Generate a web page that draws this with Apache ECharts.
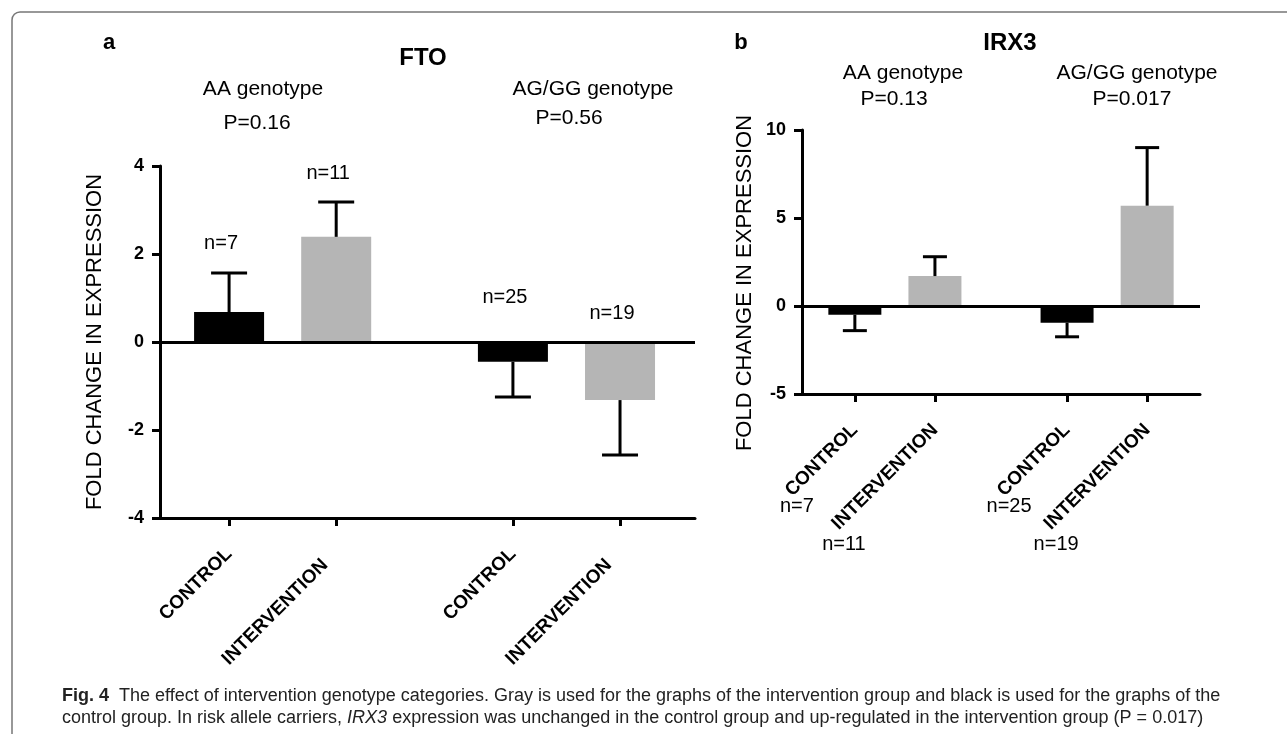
<!DOCTYPE html>
<html>
<head>
<meta charset="utf-8">
<script src="https://cdn.jsdelivr.net/npm/echarts@6/dist/echarts.min.js"></script>
<style>
	html, body { margin: 0; padding: 0; background: #fff; }
	#chart { width: 1287px; height: 734px; }
</style>
</head>
<body>
<div id="chart"></div>
<script>
// Data
var categories = ['CONTROL', 'INTERVENTION', 'CONTROL', 'INTERVENTION'];
var genotypes = ['AA genotype', 'AG/GG genotype'];
var groupN = [7, 11, 25, 19];
var ftoMean = [0.68, 2.39, -0.45, -1.32];
var ftoErr = [0.89, 0.79, 0.80, 1.25];
var ftoP = ['P=0.16', 'P=0.56'];
var irxMean = [-0.5, 1.7, -0.95, 5.7];
var irxErr = [0.9, 1.1, 0.8, 3.3];
var irxP = ['P=0.13', 'P=0.017'];

// Layout
var slots = [1, 2, 3.65, 4.65];	// two bars per genotype group, wider gap between groups
var font = 'Liberation Sans, Arial, sans-serif';
var barColors = ['#000000', '#b5b5b5'];

function XAxis(grid, min, max, pad) {
	return {
		type: 'value', gridIndex: grid, min: min, max: max,
		splitLine: { show: false },
		axisLine: { onZero: false, lineStyle: { color: '#000', width: 3 } },
		axisTick: { customValues: slots, length: 8, lineStyle: { color: '#000', width: 3 } },
		axisLabel: {
			customValues: slots, rotate: 45, margin: 33,
			color: '#000', fontFamily: font, fontWeight: 'bold', fontSize: 19,
			formatter: function(v) {
				let i = slots.indexOf(v);
				if (i < 0) return '';
				return categories[i] + (i % 2 ? pad : '');
			}
		}
	};
}
function YAxis(grid, min, max, interval, gap, shift) {
	return {
		type: 'value', gridIndex: grid, min: min, max: max, interval: interval,
		splitLine: { show: false },
		axisLine: { show: true, onZero: false, lineStyle: { color: '#000', width: 3 } },
		axisTick: { show: true, length: 8, lineStyle: { color: '#000', width: 3 } },
		axisLabel: { color: '#000', fontFamily: font, fontWeight: 'bold', fontSize: 18, margin: 16 },
		name: 'FOLD CHANGE IN EXPRESSION', nameLocation: 'middle', nameRotate: 90, nameGap: gap,
		nameTextStyle: { color: '#000', fontFamily: font, fontSize: 22, padding: [0, shift, 0, 0] }
	};
}
function BarSeries(idx, mean, barWidth) {
	return {
		type: 'bar', xAxisIndex: idx, yAxisIndex: idx, barWidth: barWidth,
		data: mean.map(function(m, i) { return [slots[i], m]; }),
		itemStyle: { color: function(p) { return barColors[p.dataIndex % 2]; } },
		markLine: {	// zero line
			silent: true, symbol: ['none', 'none'], label: { show: false },
			lineStyle: { color: '#000', width: 3, type: 'solid' },
			data: [{ yAxis: 0 }]
		},
		z: 2
	};
}
function ErrorSeries(idx, mean, err, capWidth) {	// one-sided error bars, away from zero
	return {
		type: 'custom', xAxisIndex: idx, yAxisIndex: idx, z: 3,
		data: mean.map(function(m, i) { return [slots[i], m, err[i]]; }),
		renderItem: function(params, api) {
			var m = api.value(1);
			var end = m + (m >= 0 ? 1 : -1) * api.value(2);
			var p0 = api.coord([api.value(0), m]);
			var p1 = api.coord([api.value(0), end]);
			var st = { stroke: '#000', lineWidth: 3 };
			return {
				type: 'group', children: [
					{ type: 'line', shape: { x1: p0[0], y1: p0[1], x2: p1[0], y2: p1[1] }, style: st },
					{ type: 'line', shape: { x1: p1[0] - capWidth / 2, y1: p1[1], x2: p1[0] + capWidth / 2, y2: p1[1] }, style: st }
				]
			};
		}
	};
}
function NAboveSeries(idx, mean, err) {	// n labels above bars (FTO)
	return {
		type: 'custom', xAxisIndex: idx, yAxisIndex: idx, z: 4,
		data: mean.map(function(m, i) { return [slots[i], Math.max(0, m + err[i]), groupN[i]]; }),
		renderItem: function(params, api) {
			var p = api.coord([api.value(0), api.value(1)]);
			return { type: 'text', x: p[0] - 8, y: p[1] - 29, style: {
				text: 'n=' + api.value(2), textAlign: 'center', textVerticalAlign: 'middle',
				fill: '#000', fontFamily: font, fontSize: 20
			} };
		}
	};
}
function NBelowSeries(idx, min) {	// n labels under the rotated axis labels (IRX3)
	var offs = [[-58, 112], [-91, 150]];
	return {
		type: 'custom', xAxisIndex: idx, yAxisIndex: idx, z: 4, clip: false,
		data: groupN.map(function(n, i) { return [slots[i], min, n]; }),
		renderItem: function(params, api) {
			var p = api.coord([api.value(0), api.value(1)]);
			var o = offs[params.dataIndex % 2];
			return { type: 'text', x: p[0] + o[0], y: p[1] + o[1], style: {
				text: 'n=' + api.value(2), textAlign: 'center', textVerticalAlign: 'middle',
				fill: '#000', fontFamily: font, fontSize: 20
			} };
		}
	};
}
function Label(text, x, y, size, bold) {
	return { type: 'text', x: x, y: y, style: {
		text: text, textAlign: 'center', textVerticalAlign: 'middle',
		fill: '#000', fontFamily: font, fontSize: size, fontWeight: bold ? 'bold' : 'normal'
	} };
}

var chart = echarts.init(document.getElementById('chart'), null, { renderer: 'canvas' });
var capFont = 'Liberation Sans, Arial, sans-serif';
chart.setOption({
	animation: false,
	backgroundColor: '#fff',
	grid: [
		{ left: 160, top: 166, width: 535, height: 352 },
		{ left: 802, top: 130, width: 398, height: 264 }
	],
	xAxis: [XAxis(0, 0.355, 5.35, '   '), XAxis(1, 0.34, 5.31, '')],
	yAxis: [YAxis(0, -4, 4, 2, 54, 0), YAxis(1, -5, 10, 5, 46, 42)],
	series: [
		BarSeries(0, ftoMean, 70),
		ErrorSeries(0, ftoMean, ftoErr, 36),
		NAboveSeries(0, ftoMean, ftoErr),
		BarSeries(1, irxMean, 53),
		ErrorSeries(1, irxMean, irxErr, 24),
		NBelowSeries(1, -5)
	],
	graphic: [
		{ type: 'rect', z: -1, shape: { x: 12, y: 12, width: 1320, height: 780, r: 8 },
			style: { fill: 'none', stroke: '#777', lineWidth: 1.5 } },
		Label('a', 109, 43, 22, true),
		Label('FTO', 423, 58, 24, true),
		Label(genotypes[0], 263, 89, 21),
		Label(ftoP[0], 257, 123, 21),
		Label(genotypes[1], 593, 89, 21),
		Label(ftoP[1], 569, 118, 21),
		Label('b', 741, 43, 22, true),
		Label('IRX3', 1010, 43, 24, true),
		Label(genotypes[0], 903, 73, 21),
		Label(irxP[0], 894, 99, 21),
		Label(genotypes[1], 1137, 73, 21),
		Label(irxP[1], 1132, 99, 21),
		{ type: 'text', left: 62, top: 685, style: {
			text: '{b|Fig. 4}  The effect of intervention genotype categories. Gray is used for the graphs of the intervention group and black is used for the graphs of the\n' +
				'control group. In risk allele carriers, {i|IRX3} expression was unchanged in the control group and up-regulated in the intervention group (P = 0.017)',
			fill: '#222', fontFamily: capFont, fontSize: 18, lineHeight: 22,
			rich: {
				b: { fontWeight: 'bold', fontSize: 18, fontFamily: capFont, fill: '#222' },
				i: { fontStyle: 'italic', fontSize: 18, fontFamily: capFont, fill: '#222' }
			}
		} }
	]
});
</script>
</body>
</html>
